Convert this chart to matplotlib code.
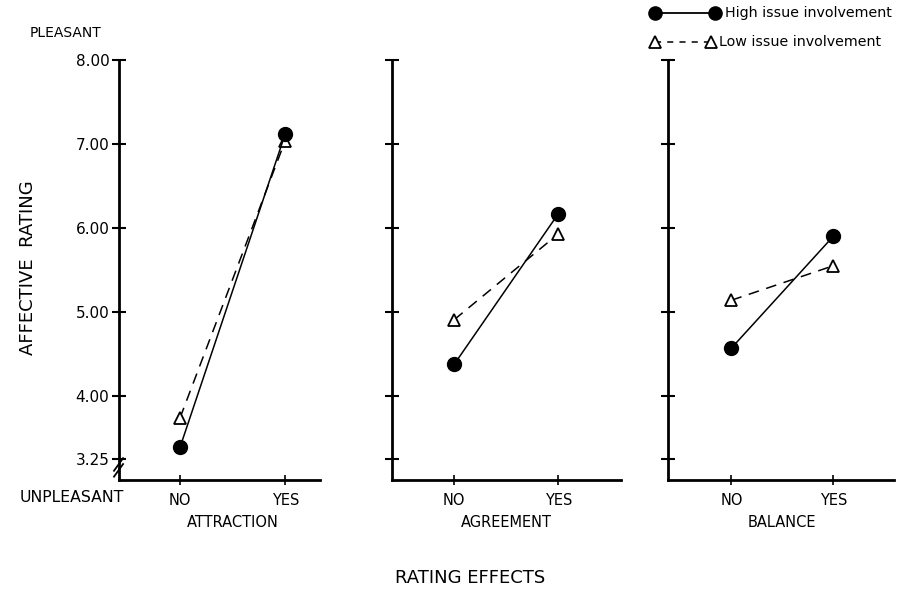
import matplotlib
matplotlib.use('Agg')
import matplotlib.pyplot as plt
from matplotlib.lines import Line2D

# values
conditions = ['NO', 'YES']
effects = ['ATTRACTION', 'AGREEMENT', 'BALANCE']
high_issue = [[3.39, 7.12], [4.38, 6.17], [4.57, 5.90]]
low_issue = [[3.74, 7.04], [4.91, 5.93], [5.14, 5.55]]
yticks = [3.25, 4.0, 5.0, 6.0, 7.0, 8.0]
ytick_labels = ['3.25', '4.00', '5.00', '6.00', '7.00', '8.00']
series_names = ['High issue involvement', 'Low issue involvement']

plt.rcParams['font.family'] = ['DejaVu Sans']
fig = plt.figure(figsize=(8.97, 5.90), dpi=100)
W, H = 897.0, 590.0

# axes boxes in figure fraction: left, width, xlim
boxes = [(0.1327, 0.224, (-0.58, 1.33)),
         (0.437, 0.255, (-0.60, 1.60)),
         (0.745, 0.252, (-0.62, 1.60))]
bottom, height = 0.1864, 0.712
dash = (0, (7, 5))

for i, (left, width, xlim) in enumerate(boxes):
    ax = fig.add_axes([left, bottom, width, height])
    x = list(range(len(conditions)))
    ax.plot(x, low_issue[i], color='black', lw=1.1, ls=dash,
            marker='^', ms=9, mfc='white', mec='black', mew=1.3, zorder=3)
    ax.plot(x, high_issue[i], color='black', lw=1.1, ls='-',
            marker='o', ms=10, mfc='black', mec='black', zorder=4)
    ax.set_xlim(*xlim)
    ax.set_ylim(3.0, 8.0)
    ax.set_xticks(x)
    ax.set_xticklabels(conditions, fontsize=10.5)
    ax.set_yticks(yticks)
    if i == 0:
        ax.set_yticklabels(ytick_labels, fontsize=11)
    else:
        ax.set_yticklabels([])
    for s in ['top', 'right']:
        ax.spines[s].set_visible(False)
    for s in ['left', 'bottom']:
        ax.spines[s].set_linewidth(2)
    ax.tick_params(axis='y', direction='inout', length=10, width=1.5, pad=2)
    ax.tick_params(axis='x', direction='inout', length=7, width=1.2, pad=6)
    ax.text(0.5, -0.102, effects[i], transform=ax.get_xaxis_transform(),
            ha='center', va='center', fontsize=10.5)
    if i == 0:
        # axis break marks
        for dy in (0.0, 0.014):
            ax.plot([-0.025, 0.02], [0.008 + dy, 0.038 + dy], transform=ax.transAxes,
                    color='black', lw=1.3, clip_on=False)

fig.text(30 / W, 1 - 33 / H, 'PLEASANT', fontsize=10, va='center')
fig.text(20 / W, 1 - 497 / H, 'UNPLEASANT', fontsize=11.3, va='center')
fig.text(28 / W, 1 - 268 / H, 'AFFECTIVE  RATING', fontsize=13, rotation=90,
         ha='center', va='center')
fig.text(470 / W, 1 - 578 / H, 'RATING EFFECTS', fontsize=13, ha='center', va='center')

# key in the top right corner
fig.add_artist(Line2D([655 / W, 715 / W], [1 - 13 / H] * 2, transform=fig.transFigure,
                      color='black', lw=1.3, marker='o', ms=9.5, mfc='black'))
fig.add_artist(Line2D([655 / W, 711 / W], [1 - 42 / H] * 2, transform=fig.transFigure,
                      color='black', lw=1.1, ls=(0, (4, 4)), marker='^', ms=9,
                      mfc='white', mec='black', mew=1.3))
fig.text(725 / W, 1 - 13 / H, series_names[0], fontsize=10.3, va='center')
fig.text(719 / W, 1 - 42 / H, series_names[1], fontsize=10.3, va='center')

fig.savefig('out.png', dpi=100)
